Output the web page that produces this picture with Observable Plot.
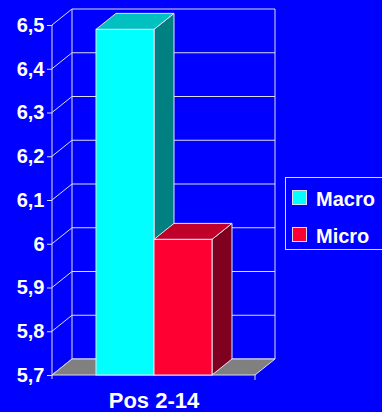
<!DOCTYPE html>
<html>
<head>
<meta charset="utf-8">
<script src="https://cdn.jsdelivr.net/npm/d3@7"></script>
<script src="https://cdn.jsdelivr.net/npm/@observablehq/plot@0.6"></script>
<style>
  html, body { margin: 0; padding: 0; background: #0000ff; overflow: hidden; }
  #chart {
    position: relative; width: 382px; height: 412px; overflow: hidden;
    font-family: "Liberation Sans", Arial, sans-serif; color: #fff;
  }
  #chart svg { display: block; }
  .legend {
    position: absolute; left: 285px; top: 177px; width: 97px; height: 73px;
    border: 1px solid #d8d8f0; border-right: none; box-sizing: border-box;
  }
  .legend .swatch {
    position: absolute; left: 6px; width: 15px; height: 15px;
    box-sizing: border-box; border: 1px solid #e0e0f0;
  }
  .legend .name {
    position: absolute; left: 30px; font-size: 20px; line-height: 20px;
    font-weight: bold; color: #fff; white-space: nowrap;
  }
</style>
</head>
<body>
<div id="chart"></div>
<script>
// Average score per group, position 2-14
const categories = ["Pos 2-14"];
const series = ["Macro", "Micro"];
const values = [6.49, 6.01];
const yTicks = [5.7, 5.8, 5.9, 6.0, 6.1, 6.2, 6.3, 6.4, 6.5];

// Palette: front, top and side shading of each column
const front = {Macro: "#00ffff", Micro: "#ff0033"};
const topShade = {Macro: "#00c0c0", Micro: "#c00028"};
const sideShade = {Macro: "#008080", Micro: "#800020"};
const lineColor = "#dcdcf4";
const edgeColor = "#e6e6f2";
const depth = {dx: 20, dy: -16};

const rows = series.map((s, i) => ({series: s, value: values[i]}));
const yMin = yTicks[0], yMax = yTicks[yTicks.length - 1];

const commaFormat = d3.formatLocale({decimal: ",", thousands: ".", grouping: [3], currency: ["", ""]}).format(".1~f");

// Back wall, side wall and floor of the 3-D box
function box(index, scales, values, dims) {
  const {y} = scales;
  const left = dims.marginLeft, right = dims.width - dims.marginRight;
  const base = y(yMin), roof = y(yMax);
  const {dx, dy} = depth;
  const g = d3.create("svg:g").attr("stroke", lineColor).attr("fill", "none");
  for (const t of yTicks) {
    g.append("line").attr("x1", left + dx).attr("x2", right + dx)
      .attr("y1", y(t) + dy).attr("y2", y(t) + dy);
    g.append("line").attr("x1", left).attr("x2", left + dx)
      .attr("y1", y(t)).attr("y2", y(t) + dy);
  }
  g.append("line").attr("x1", left + dx).attr("x2", left + dx).attr("y1", roof + dy).attr("y2", base + dy);
  g.append("line").attr("x1", right + dx).attr("x2", right + dx).attr("y1", roof + dy).attr("y2", base + dy);
  g.append("path")
    .attr("d", `M${left},${base}L${right},${base}L${right + dx},${base + dy}L${left + dx},${base + dy}Z`)
    .attr("fill", "#808080");
  g.append("line").attr("x1", left).attr("x2", left).attr("y1", roof).attr("y2", base + 4);
  g.append("line").attr("x1", right).attr("x2", right).attr("y1", base).attr("y2", base + 5);
  return g.node();
}

// Top and side faces of each column
function columnDepth(index, scales) {
  const {x, y} = scales;
  const bw = x.bandwidth();
  const {dx, dy} = depth;
  const yb = y(yMin);
  const g = d3.create("svg:g").attr("stroke", edgeColor).attr("stroke-width", 1);
  rows.forEach(d => {
    const x0 = x(d.series), x1 = x0 + bw, yv = y(d.value);
    g.append("path")
      .attr("d", `M${x1},${yv}L${x1 + dx},${yv + dy}L${x1 + dx},${yb + dy}L${x1},${yb}Z`)
      .attr("fill", sideShade[d.series]);
    g.append("path")
      .attr("d", `M${x0},${yv}L${x1},${yv}L${x1 + dx},${yv + dy}L${x0 + dx},${yv + dy}Z`)
      .attr("fill", topShade[d.series]);
  });
  return g.node();
}

const chart = Plot.plot({
  width: 382,
  height: 412,
  marginLeft: 52,
  marginRight: 127,
  marginTop: 25,
  marginBottom: 37,
  style: {background: "transparent", fontFamily: "Liberation Sans, Arial, sans-serif", color: "#fff"},
  x: {type: "band", domain: series, paddingInner: 0, paddingOuter: 0.735, axis: null},
  y: {domain: [yMin, yMax]},
  marks: [
    box,
    columnDepth,
    Plot.barY(rows, {
      x: "series", y1: yMin, y2: "value",
      fill: d => front[d.series], stroke: edgeColor, strokeWidth: 1
    }),
    Plot.axisY(yTicks, {
      tickSize: 5, tickPadding: 3, tickFormat: commaFormat,
      fontSize: 20, fontWeight: "bold", fill: "#fff", stroke: lineColor, label: null
    }),
    Plot.text(categories, {
      text: d => d, frameAnchor: "bottom", lineAnchor: "top", dy: 17,
      fontSize: 22, fontWeight: "bold", fill: "#fff"
    })
  ]
});

const root = document.getElementById("chart");
root.appendChild(chart);

// Legend box on the right
const legend = d3.select(root).append("div").attr("class", "legend");
series.forEach((s, i) => {
  legend.append("div").attr("class", "swatch")
    .style("top", `${12 + i * 37}px`).style("background", front[s]);
  legend.append("div").attr("class", "name")
    .style("top", `${11 + i * 37}px`).text(s);
});
</script>
</body>
</html>
